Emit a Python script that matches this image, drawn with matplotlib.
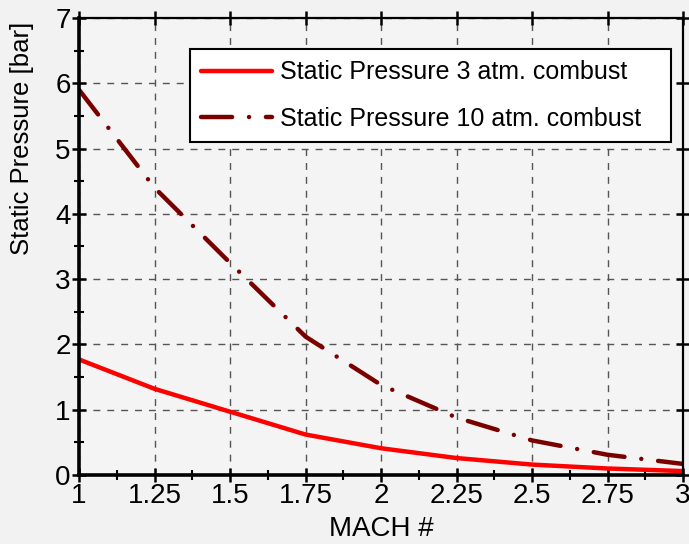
import numpy as np
import matplotlib
matplotlib.use("Agg")
import matplotlib.pyplot as plt
from matplotlib.ticker import MultipleLocator

plt.rcParams['font.family'] = ['Liberation Sans', 'DejaVu Sans']
narrow = ['Liberation Sans Narrow', 'Liberation Sans', 'DejaVu Sans']

# data
mach = [1.0, 1.25, 1.5, 1.75, 2.0, 2.25, 2.5, 2.75, 3.0]
p_3atm = [1.77, 1.32, 0.97, 0.62, 0.41, 0.26, 0.16, 0.10, 0.06]
p_10atm = [5.90, 4.40, 3.25, 2.12, 1.38, 0.88, 0.53, 0.31, 0.17]
x_ticks = [1, 1.25, 1.5, 1.75, 2, 2.25, 2.5, 2.75, 3]
x_tick_labels = ['1', '1.25', '1.5', '1.75', '2', '2.25', '2.5', '2.75', '3']

fig = plt.figure(figsize=(6.89, 5.44), dpi=100, facecolor='#f2f2f2')
ax = fig.add_axes([0.1147, 0.1268, 0.8766, 0.8402])
ax.set_facecolor('#f4f4f4')

ax.plot(mach, p_3atm, color='#ff0000', lw=3.2, solid_capstyle='round',
        label='Static Pressure 3 atm. combust')
ax.plot(mach, p_10atm, color='#7a0000', lw=3.2, dash_capstyle='round',
        linestyle=(0, (7, 3.8, 0.01, 3.8)),
        label='Static Pressure 10 atm. combust')

ax.set_xlim(1, 3)
ax.set_ylim(0, 7)
ax.set_xticks(x_ticks)
ax.set_xticklabels(x_tick_labels)
ax.set_yticks(range(0, 8))
ax.xaxis.set_minor_locator(MultipleLocator(0.125))
ax.yaxis.set_minor_locator(MultipleLocator(0.5))
for lab in ax.get_xticklabels() + ax.get_yticklabels():
    lab.set_family(narrow)

ax.grid(True, which='major', color='#555555', linestyle=(0, (5, 5)), lw=1.0)
ax.tick_params(which='major', direction='inout', length=10, width=1.8, labelsize=20, pad=1)
ax.tick_params(which='minor', direction='inout', length=7, width=1.5)
ax.tick_params(which='major', top=True, right=True)

for side in ['left', 'bottom']:
    ax.spines[side].set_linewidth(2.6)
for side in ['top', 'right']:
    ax.spines[side].set_linewidth(1.6)

ax.set_xlabel('MACH #', fontsize=20, family=narrow, labelpad=5)
ax.set_ylabel('Static Pressure [bar]', fontsize=18.5)
ax.yaxis.set_label_coords(-0.074, 0.737)

leg = ax.legend(loc='upper left', bbox_to_anchor=(0.1835, 0, 0.797, 0.932), mode='expand',
                fontsize=18, handlelength=2.85, fancybox=False, edgecolor='black',
                framealpha=1, borderpad=0.45, labelspacing=0.9, handletextpad=0.3,
                borderaxespad=0)
leg.get_frame().set_linewidth(1.5)

fig.savefig('out.png', dpi=100, facecolor=fig.get_facecolor())
